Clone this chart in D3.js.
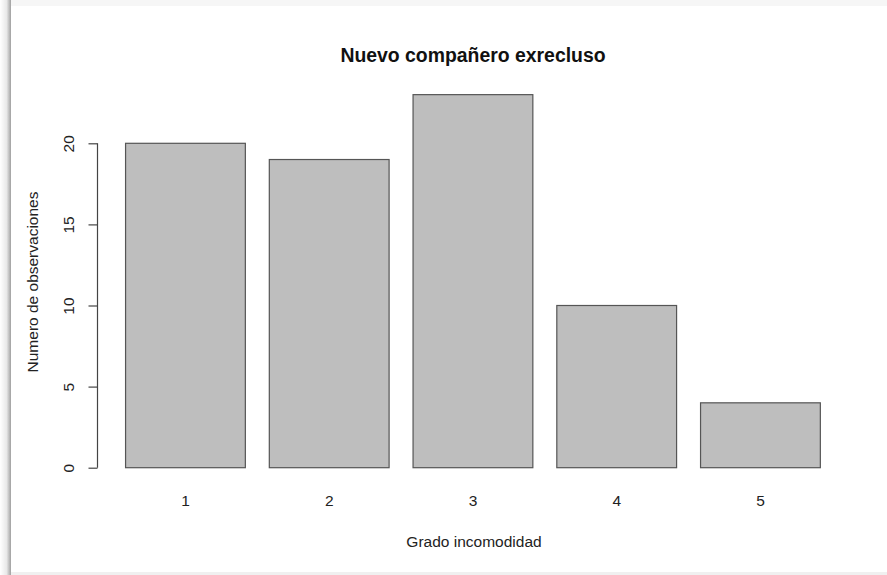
<!DOCTYPE html>
<html><head><meta charset="utf-8">
<script src="https://cdn.jsdelivr.net/npm/d3@7"></script>
<style>body{margin:0;background:#fff}svg{display:block}text{font-family:"Liberation Sans",Arial,sans-serif}</style>
</head><body>
<script>
const categories = ["1","2","3","4","5"];
const values = [20, 19, 23, 10, 4];
const yTicks = [0, 5, 10, 15, 20];
const title = "Nuevo compañero exrecluso";
const xTitle = "Grado incomodidad";
const yTitle = "Numero de observaciones";

const W = 887, H = 575;
const svg = d3.select("body").append("svg").attr("width", W).attr("height", H);

// frame / shadow of the screenshot
const defs = svg.append("defs");
const lg = defs.append("linearGradient").attr("id","ls").attr("x1","0").attr("x2","1");
lg.append("stop").attr("offset","0").attr("stop-color","#ffffff");
lg.append("stop").attr("offset","0.6").attr("stop-color","#e8e8e8");
lg.append("stop").attr("offset","1").attr("stop-color","#a0a0a0");
svg.append("rect").attr("x",0).attr("y",0).attr("width",W).attr("height",6).attr("fill","#f6f6f6");
svg.append("rect").attr("x",0).attr("y",0).attr("width",11).attr("height",H).attr("fill","url(#ls)");
svg.append("rect").attr("x",11).attr("y",572).attr("width",W-11).attr("height",3).attr("fill","#f0f0f0");

const y = d3.scaleLinear().domain([0, 20]).range([467.7, 143.3]);
const x = d3.scaleBand().domain(categories).range([101.6, 844.3]).paddingInner(0.1667).paddingOuter(0.1667);

svg.append("g").selectAll("rect").data(values).join("rect")
  .attr("x", (d,i) => x(categories[i]))
  .attr("y", d => y(d))
  .attr("width", x.bandwidth())
  .attr("height", d => y(0) - y(d))
  .attr("fill", "#bebebe").attr("stroke", "#555").attr("stroke-width", 1.2);

const fs = 15.5;
// y axis
const yAxis = svg.append("g").attr("transform", "translate(97.5,0)")
  .call(d3.axisLeft(y).tickValues(yTicks).tickSize(9).tickPadding(0).tickFormat(d3.format("d")));
yAxis.select(".domain").attr("d", `M-0,${y(0)}V${y(20)}`).attr("stroke","#444").attr("stroke-width",1.2);
yAxis.selectAll(".tick line").attr("stroke","#444").attr("stroke-width",1.2);
yAxis.selectAll(".tick text")
  .attr("transform", "translate(-29,0) rotate(-90)")
  .attr("x", 0).attr("dy", "0.35em")
  .attr("text-anchor", "middle").attr("font-size", fs).attr("fill", "#222")
  .style("font-family", '"Liberation Sans",Arial,sans-serif');

// x labels
svg.append("g").selectAll("text").data(categories).join("text")
  .attr("x", d => x(d) + x.bandwidth()/2).attr("y", 506)
  .attr("text-anchor","middle").attr("font-size",fs).attr("fill","#222").text(d => d);

svg.append("text").attr("x", 473).attr("y", 62).attr("text-anchor","middle")
  .attr("font-size", 19.4).attr("font-weight","bold").attr("fill","#111").text(title);
svg.append("text").attr("x", 474).attr("y", 547).attr("text-anchor","middle")
  .attr("font-size", fs).attr("fill","#222").text(xTitle);
svg.append("text").attr("transform","translate(37.5,282) rotate(-90)").attr("text-anchor","middle")
  .attr("font-size", fs).attr("fill","#222").text(yTitle);
</script>
</body></html>
